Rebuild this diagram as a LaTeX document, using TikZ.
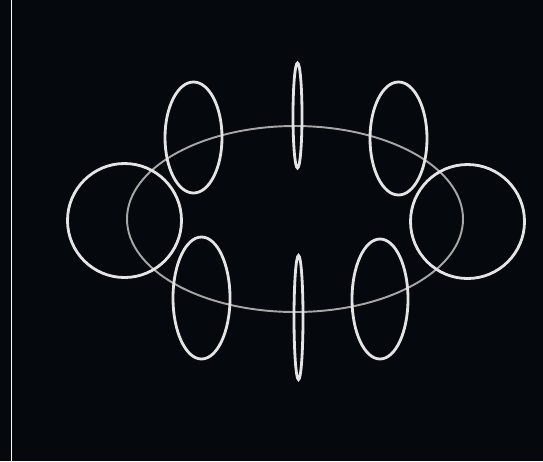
\documentclass[tikz,border=0pt]{standalone}
\usepackage{xcolor}
\usepackage{tikz}
\usetikzlibrary{calc}
\definecolor{bgdark}{HTML}{05080C}
\definecolor{ringwhite}{HTML}{E4E4E4}
\definecolor{orbitgray}{HTML}{A6A6A6}
\tikzset{
  ring/.style={draw=ringwhite, line width=1.6pt},
  orbit/.style={draw=orbitgray, line width=1.1pt},
  edgeline/.style={draw=white, line width=1.1pt},
}

\begin{document}
\begin{tikzpicture}[x=0.02cm, y=-0.02cm]
  % background
  \fill[bgdark] (0,0) rectangle (543,461);
  \useasboundingbox (0,0) rectangle (543,461);

  % white strip on the left
  \coordinate (st) at (11.5,0);
  \coordinate (sb) at (11.5,461);
  \draw[edgeline] (st) -- (sb);

  % big orbit
  \draw[orbit] (295,219) ellipse [x radius=168, y radius=93];

  % side circles
  \draw[ring] (124.5,220.5) circle [radius=57];
  \draw[ring] (467.5,221.5) circle [radius=57];

  % tilted rings around the orbit
  \foreach \x/\y/\rx/\ry in {193.5/137.5/28.5/55.5, 398.5/138.5/28.5/56.5,
                             201.5/298/28.5/61, 380/299/28/60} {
    \draw[ring] (\x,\y) ellipse [x radius=\rx, y radius=\ry];
  }

  % edge-on rings (top and bottom)
  \draw[ring] (297.5,115.5) ellipse [x radius=4.5, y radius=52.5];
  \draw[ring] (298.5,317.5) ellipse [x radius=4.5, y radius=62];
\end{tikzpicture}
\end{document}
